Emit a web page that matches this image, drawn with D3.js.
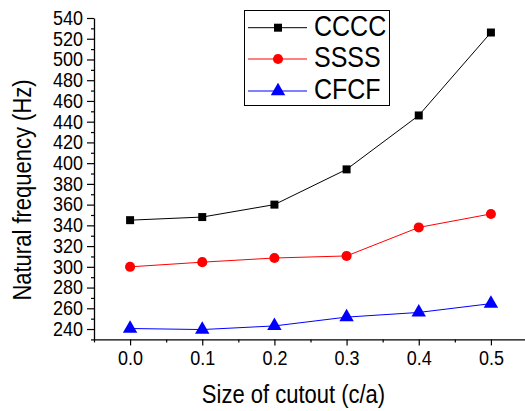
<!DOCTYPE html>
<html>
<head>
<meta charset="utf-8">
<script src="https://cdn.jsdelivr.net/npm/d3@7"></script>
<style>
  body { margin: 0; background: #fff; }
  svg { display: block; font-family: "Liberation Sans", Arial, sans-serif; }
</style>
</head>
<body>
<div id="chart"></div>
<script>
// data
const cutout = [0.0, 0.1, 0.2, 0.3, 0.4, 0.5];
const cccc = [345, 348, 360, 394, 446, 526];
const ssss = [300, 304.5, 308.5, 310.5, 338, 351];
const cfcf = [240.5, 239.5, 243, 251.5, 256, 264.5];

const seriesNames = ["CCCC", "SSSS", "CFCF"];
const seriesColors = ["#000000", "#ff0000", "#0000ff"];
const seriesShapes = [d3.symbolSquare, d3.symbolCircle, d3.symbolTriangle];

const xTicks = [0.0, 0.1, 0.2, 0.3, 0.4, 0.5];
const xMinorTicks = [-0.05, 0.05, 0.15, 0.25, 0.35, 0.45];
const yTicks = d3.range(240, 541, 20);
const yMinorTicks = d3.range(230, 540, 20);

const width = 525, height = 411;

const svg = d3.select("#chart").append("svg")
    .attr("width", width)
    .attr("height", height);

svg.append("rect").attr("width", width).attr("height", height).attr("fill", "#fff");

// scales
const x = d3.scaleLinear().domain([-0.05, 0.55]).range([94, 527]);
const y = d3.scaleLinear().domain([230, 540]).range([339.4, 18]);

// minor ticks first
svg.append("g")
    .attr("transform", `translate(0,${y(230)})`)
    .call(d3.axisBottom(x).tickValues(xMinorTicks).tickSize(3).tickFormat(""))
    .call(g => g.select(".domain").remove());

svg.append("g")
    .attr("transform", `translate(${x(-0.05)},0)`)
    .call(d3.axisLeft(y).tickValues(yMinorTicks).tickSize(3).tickFormat(""))
    .call(g => g.select(".domain").remove());

// major x axis
const xAxisG = svg.append("g")
    .attr("transform", `translate(0,${y(230)})`)
    .call(d3.axisBottom(x).tickValues(xTicks).tickSize(6).tickSizeOuter(0).tickFormat(d3.format(".1f")));
xAxisG.selectAll("text")
    .attr("y", 10.5)
    .attr("transform", "scale(1,1.1)")
    .style("font-size", "18px")
    .attr("fill", "#000");

// major y axis
const yAxisG = svg.append("g")
    .attr("transform", `translate(${x(-0.05)},0)`)
    .call(d3.axisLeft(y).tickValues(yTicks).tickSize(7).tickSizeOuter(0));
yAxisG.selectAll("text")
    .attr("x", -11)
    .attr("transform", "scale(1,1.1)")
    .style("font-size", "18px")
    .attr("fill", "#000");
// keep labels centred on the tick after the scale
yAxisG.selectAll(".tick text").attr("y", function() { return 0; });

svg.selectAll(".domain").attr("stroke", "#000").attr("stroke-width", 1.3);
svg.selectAll(".tick line").attr("stroke", "#000").attr("stroke-width", 1.2);

// axis titles
svg.append("text")
    .attr("transform", "translate(293.5,403) scale(1,1.14)")
    .attr("text-anchor", "middle")
    .style("font-size", "22px")
    .text("Size of cutout (c/a)");

svg.append("text")
    .attr("transform", "translate(31,190) rotate(-90) scale(1,1.14)")
    .attr("text-anchor", "middle")
    .style("font-size", "22px")
    .text("Natural frequency (Hz)");

// series
const allSeries = [cccc, ssss, cfcf];
const line = d3.line()
    .x((d, i) => x(cutout[i]))
    .y(d => y(d));

const symbolSizes = [64, 80, 90];

allSeries.forEach((vals, s) => {
    svg.append("path")
        .datum(vals)
        .attr("fill", "none")
        .attr("stroke", seriesColors[s])
        .attr("stroke-width", 1)
        .attr("d", line);

    svg.selectAll(".pt" + s)
        .data(vals)
        .join("path")
        .attr("class", "pt" + s)
        .attr("transform", (d, i) => `translate(${x(cutout[i])},${y(d)})`)
        .attr("d", d3.symbol().type(seriesShapes[s]).size(symbolSizes[s]))
        .attr("fill", seriesColors[s]);
});

// legend
const legend = svg.append("g");
legend.append("rect")
    .attr("x", 244.5).attr("y", 10.5)
    .attr("width", 145).attr("height", 95)
    .attr("fill", "#fff")
    .attr("stroke", "#000")
    .attr("stroke-width", 1);

const rowY = [27.7, 59, 91];
seriesNames.forEach((name, s) => {
    legend.append("line")
        .attr("x1", 248).attr("x2", 307)
        .attr("y1", rowY[s]).attr("y2", rowY[s])
        .attr("stroke", seriesColors[s])
        .attr("stroke-width", 1);
    legend.append("path")
        .attr("transform", `translate(278,${rowY[s]})`)
        .attr("d", d3.symbol().type(seriesShapes[s]).size(symbolSizes[s]))
        .attr("fill", seriesColors[s]);
    legend.append("text")
        .attr("transform", `translate(314,${rowY[s] + 8.3}) scale(1,1.15)`)
        .style("font-size", "25px")
        .text(name);
});
</script>
</body>
</html>
